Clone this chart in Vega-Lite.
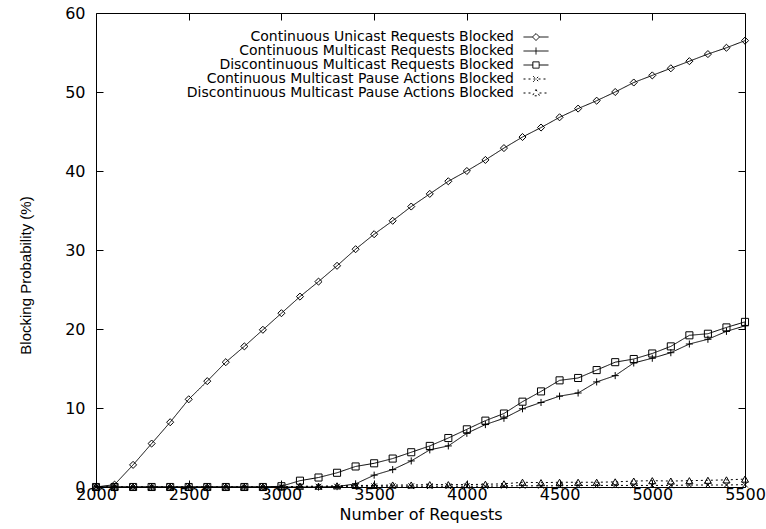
{
  "$schema": "https://vega.github.io/schema/vega-lite/v6.json",
  "autosize": {"type": "none"},
  "padding": {"left": 96, "top": 13, "right": 21, "bottom": 42},
  "width": 649,
  "height": 474,
  "background": "white",
  "config": {"view": {"stroke": "black", "strokeWidth": 1}, "font": "DejaVu Sans"},
  "data": {"values": [
    {"n": 2000, "CU": 0, "CM": 0, "DM": 0, "CP": 0, "DP": 0},
    {"n": 2100, "CU": 0.3, "CM": 0, "DM": 0, "CP": 0, "DP": 0},
    {"n": 2200, "CU": 2.8, "CM": 0, "DM": 0, "CP": 0, "DP": 0},
    {"n": 2300, "CU": 5.5, "CM": 0, "DM": 0, "CP": 0, "DP": 0},
    {"n": 2400, "CU": 8.2, "CM": 0, "DM": 0, "CP": 0, "DP": 0},
    {"n": 2500, "CU": 11.1, "CM": 0, "DM": 0, "CP": 0, "DP": 0},
    {"n": 2600, "CU": 13.4, "CM": 0, "DM": 0, "CP": 0, "DP": 0},
    {"n": 2700, "CU": 15.8, "CM": 0, "DM": 0, "CP": 0, "DP": 0},
    {"n": 2800, "CU": 17.8, "CM": 0, "DM": 0, "CP": 0, "DP": 0},
    {"n": 2900, "CU": 19.9, "CM": 0, "DM": 0, "CP": 0, "DP": 0},
    {"n": 3000, "CU": 22.0, "CM": 0, "DM": 0.1, "CP": 0, "DP": 0},
    {"n": 3100, "CU": 24.1, "CM": 0, "DM": 0.8, "CP": 0.05, "DP": 0.1},
    {"n": 3200, "CU": 26.0, "CM": 0, "DM": 1.2, "CP": 0.05, "DP": 0.1},
    {"n": 3300, "CU": 28.0, "CM": 0.05, "DM": 1.8, "CP": 0.05, "DP": 0.15},
    {"n": 3400, "CU": 30.1, "CM": 0.4, "DM": 2.6, "CP": 0.1, "DP": 0.2},
    {"n": 3500, "CU": 32.0, "CM": 1.5, "DM": 3.0, "CP": 0.1, "DP": 0.2},
    {"n": 3600, "CU": 33.7, "CM": 2.2, "DM": 3.6, "CP": 0.1, "DP": 0.25},
    {"n": 3700, "CU": 35.5, "CM": 3.3, "DM": 4.4, "CP": 0.1, "DP": 0.25},
    {"n": 3800, "CU": 37.1, "CM": 4.7, "DM": 5.2, "CP": 0.1, "DP": 0.3},
    {"n": 3900, "CU": 38.7, "CM": 5.2, "DM": 6.2, "CP": 0.1, "DP": 0.3},
    {"n": 4000, "CU": 40.0, "CM": 6.8, "DM": 7.3, "CP": 0.1, "DP": 0.3},
    {"n": 4100, "CU": 41.4, "CM": 7.9, "DM": 8.4, "CP": 0.1, "DP": 0.35},
    {"n": 4200, "CU": 42.9, "CM": 8.7, "DM": 9.3, "CP": 0.15, "DP": 0.4},
    {"n": 4300, "CU": 44.3, "CM": 9.9, "DM": 10.8, "CP": 0.15, "DP": 0.6},
    {"n": 4400, "CU": 45.5, "CM": 10.7, "DM": 12.1, "CP": 0.15, "DP": 0.55},
    {"n": 4500, "CU": 46.8, "CM": 11.5, "DM": 13.5, "CP": 0.15, "DP": 0.6},
    {"n": 4600, "CU": 47.9, "CM": 11.9, "DM": 13.8, "CP": 0.2, "DP": 0.6},
    {"n": 4700, "CU": 48.9, "CM": 13.3, "DM": 14.8, "CP": 0.2, "DP": 0.6},
    {"n": 4800, "CU": 50.0, "CM": 14.1, "DM": 15.8, "CP": 0.2, "DP": 0.65},
    {"n": 4900, "CU": 51.2, "CM": 15.7, "DM": 16.2, "CP": 0.2, "DP": 0.75},
    {"n": 5000, "CU": 52.1, "CM": 16.3, "DM": 16.9, "CP": 0.2, "DP": 0.8},
    {"n": 5100, "CU": 53.0, "CM": 17.0, "DM": 17.8, "CP": 0.2, "DP": 0.75},
    {"n": 5200, "CU": 53.9, "CM": 18.1, "DM": 19.2, "CP": 0.25, "DP": 0.8},
    {"n": 5300, "CU": 54.8, "CM": 18.7, "DM": 19.4, "CP": 0.25, "DP": 0.85},
    {"n": 5400, "CU": 55.6, "CM": 19.7, "DM": 20.2, "CP": 0.25, "DP": 0.9},
    {"n": 5500, "CU": 56.5, "CM": 20.4, "DM": 20.9, "CP": 0.3, "DP": 1.0}
  ]},
  "transform": [{"fold": ["CU", "CM", "DM", "CP", "DP"], "as": ["series", "p"]}],
  "layer": [
    {
      "mark": {"type": "line", "color": "black", "strokeWidth": 1},
      "encoding": {
        "x": {"field": "n", "type": "quantitative", "scale": {"domain": [2000, 5500], "nice": false, "zero": false},
          "axis": {"orient": "bottom", "values": [2000, 2500, 3000, 3500, 4000, 4500, 5000, 5500], "format": "d", "grid": false, "domain": false,
            "tickColor": "black", "tickSize": -7, "tickWidth": 1, "labelPadding": 19, "labelBaseline": "alphabetic", "labelFlush": false,
            "labelFont": "DejaVu Sans", "labelFontSize": 16, "labelColor": "black",
            "title": "Number of Requests", "titleFont": "DejaVu Sans", "titleFontSize": 16, "titleFontWeight": "normal", "titleColor": "black",
            "titleBaseline": "alphabetic", "titleY": 32}},
        "y": {"field": "p", "type": "quantitative", "scale": {"domain": [0, 60], "nice": false},
          "axis": {"orient": "left", "values": [0, 10, 20, 30, 40, 50, 60], "grid": false, "domain": false,
            "tickColor": "black", "tickSize": -7, "tickWidth": 1, "labelPadding": 18, "labelFlush": false,
            "labelFont": "DejaVu Sans", "labelFontSize": 16, "labelColor": "black",
            "title": "Blocking Probability (%)", "titleFont": "Liberation Sans", "titleFontSize": 15, "titleFontWeight": "normal", "titleColor": "black",
            "titleX": -63, "titleY": 262}},
        "detail": {"field": "series"},
        "strokeDash": {"field": "series", "type": "nominal",
          "scale": {"domain": ["CU", "CM", "DM", "CP", "DP"], "range": [[1, 0], [1, 0], [1, 0], [2, 3], [2, 3]]}, "legend": null}
      }
    },
    {
      "mark": {"type": "point", "filled": false, "color": "black", "size": 50, "strokeWidth": 1, "opacity": 1},
      "encoding": {
        "x": {"field": "n", "type": "quantitative",
          "axis": {"orient": "top", "values": [2500, 3000, 3500, 4000, 4500, 5000], "labels": false, "title": null, "grid": false, "domain": false, "tickColor": "black", "tickSize": -7, "tickWidth": 1}},
        "y": {"field": "p", "type": "quantitative",
          "axis": {"orient": "right", "values": [10, 20, 30, 40, 50], "labels": false, "title": null, "grid": false, "domain": false, "tickColor": "black", "tickSize": -7, "tickWidth": 1}},
        "shape": {"field": "series", "type": "nominal",
          "scale": {"domain": ["CU", "CM", "DM", "CP", "DP"], "range": ["diamond", "M-1,0H1M0,-1V1", "square", "M-0.8,-0.8L0.8,0.8M-0.8,0.8L0.8,-0.8", "triangle-up"]}, "legend": null}
      }
    },
    {
      "transform": [{"filter": "datum.n < 0"}],
      "mark": {"type": "point", "filled": false, "color": "black", "size": 100, "strokeWidth": 1, "opacity": 1},
      "encoding": {
        "x": {"field": "n", "type": "quantitative", "axis": null},
        "y": {"field": "p", "type": "quantitative", "axis": null},
        "shape": {"field": "series", "type": "nominal",
          "scale": {"domain": ["CU", "CM", "DM", "CP", "DP"],
            "range": ["M-2.5,0H-0.7M0.7,0H2.5M-0.7,0L0,-0.7L0.7,0L0,0.7Z",
                      "M-2.5,0H2.5M0,-0.7V0.7",
                      "M-2.5,0H-0.63M0.63,0H2.5M-0.63,-0.63H0.63V0.63H-0.63Z",
                      "M-2.5,0H2.5M-0.56,-0.56L0.56,0.56M-0.56,0.56L0.56,-0.56",
                      "M-2.5,0H-0.7M0.7,0H2.5M0,-0.7L0.7,0.56H-0.7Z"]},
          "legend": {"orient": "none", "legendX": 433, "legendY": 17, "title": null, "padding": 0,
            "labelExpr": "{'CU': 'Continuous Unicast Requests Blocked', 'CM': 'Continuous Multicast Requests Blocked', 'DM': 'Discontinuous Multicast Requests Blocked', 'CP': 'Continuous Multicast Pause Actions Blocked', 'DP': 'Discontinuous Multicast Pause Actions Blocked'}[datum.label]",
            "labelFont": "DejaVu Sans", "labelFontSize": 14, "labelColor": "black", "labelAlign": "right", "labelOffset": -29, "labelLimit": 0,
            "symbolSize": 100, "symbolStrokeColor": "black", "symbolStrokeWidth": 1, "symbolFillColor": "transparent", "symbolOpacity": 1,
            "rowPadding": -1}},
        "strokeDash": {"field": "series", "type": "nominal",
          "scale": {"domain": ["CU", "CM", "DM", "CP", "DP"], "range": [[1, 0], [1, 0], [1, 0], [2, 3], [2, 3]]}}
      }
    }
  ],
  "resolve": {"scale": {"shape": "independent", "strokeDash": "independent"}, "axis": {"x": "independent", "y": "independent"}}
}
